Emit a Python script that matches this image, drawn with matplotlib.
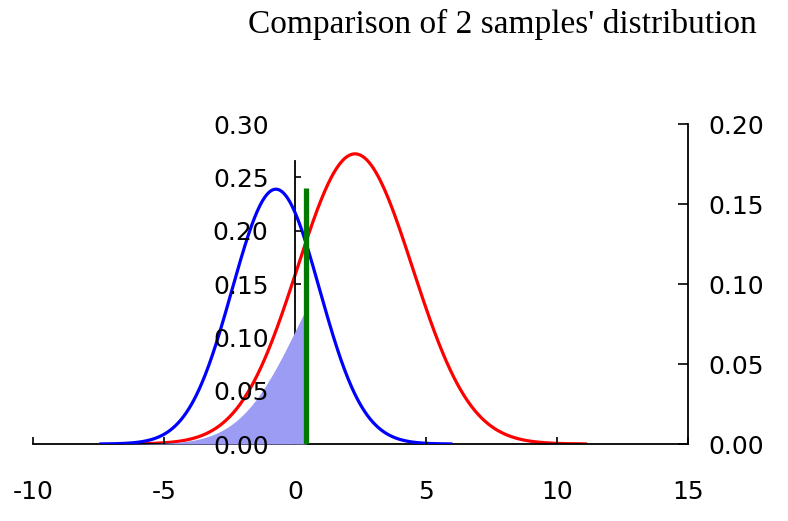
import numpy as np
import matplotlib
matplotlib.use("Agg")
import matplotlib.pyplot as plt

# ---- data ----
title = "Comparison of 2 samples' distribution"
x_ticks = [-10, -5, 0, 5, 10, 15]
left_ticks = [0.00, 0.05, 0.10, 0.15, 0.20, 0.25, 0.30]
right_ticks = [0.00, 0.05, 0.10, 0.15, 0.20]

blue_mean, blue_sd = -0.73, 1.67     # sample 1 (left axis)
red_mean, red_sd = 2.29, 2.20        # sample 2 (right axis)
cut_x = 0.42                          # green marker position
cut_height = 0.24                     # green marker height (left axis)
span_sd = 4.0                         # curves drawn over mean +- 4 sd


def pdf(x, m, s):
    return np.exp(-0.5 * ((x - m) / s) ** 2) / (s * np.sqrt(2 * np.pi))


xb = np.linspace(blue_mean - span_sd * blue_sd, blue_mean + span_sd * blue_sd, 400)
xr = np.linspace(red_mean - span_sd * red_sd, red_mean + span_sd * red_sd, 400)
xf = np.linspace(red_mean - span_sd * red_sd, cut_x, 300)

W, H = 788, 521
fig = plt.figure(figsize=(W / 100, H / 100), dpi=100)
left_px, right_px, bottom_px, top_px = 33, 688, 444, 124
ax = fig.add_axes([left_px / W, 1 - bottom_px / H,
                   (right_px - left_px) / W, (bottom_px - top_px) / H])
ax2 = ax.twinx()
ax.set_zorder(ax2.get_zorder() + 1)

ax.fill_between(xf, 0, pdf(xf, red_mean, red_sd), color="#9c9cf5", lw=0, zorder=2.6)
ax.plot(xb, pdf(xb, blue_mean, blue_sd), color="#0000ff", lw=2.3, zorder=3)
ax.plot([cut_x, cut_x], [0, cut_height], color="#007a00", lw=3.8, zorder=4,
        solid_capstyle="butt")
ax2.plot(xr, pdf(xr, red_mean, red_sd), color="#ff0000", lw=2.3)

ax.set_xlim(-10, 15)
ax.set_ylim(0, 0.30)
ax2.set_ylim(0, 0.20)

for a in (ax, ax2):
    a.patch.set_visible(False)
    for s in a.spines.values():
        s.set_visible(False)

# bottom axis
ax.spines["bottom"].set_visible(True)
ax.spines["bottom"].set_bounds(-10, 15)
ax.set_xticks(x_ticks)
ax.set_xticklabels([str(t) for t in x_ticks])
ax.tick_params(axis="x", direction="in", length=5, width=1.2, pad=26,
               labelsize=18)

# left axis at x = 0
ax.spines["left"].set_visible(True)
ax.spines["left"].set_position(("data", 0))
ax.spines["left"].set_bounds(0, 0.265)
ax.set_yticks(left_ticks)
ax.set_yticklabels([f"{t:.2f}" for t in left_ticks])
ax.tick_params(axis="y", direction="in", length=4.5, width=1.2, pad=19,
               labelsize=18)

# tick marks that are hidden under the shaded area / beyond the spine
yt = ax.yaxis.get_major_ticks()
for i in (0, 1, 2, 6):
    yt[i].tick1line.set_visible(False)
ax.xaxis.get_major_ticks()[2].tick1line.set_visible(False)

# right axis
ax2.spines["right"].set_visible(True)
ax2.set_yticks(right_ticks)
ax2.set_yticklabels([f"{t:.2f}" for t in right_ticks])
ax2.tick_params(axis="y", direction="in", length=7, width=1.2, pad=15,
                labelsize=18)

for a in (ax, ax2):
    for s in a.spines.values():
        s.set_linewidth(1.3)
    a.xaxis.set_zorder(5)
    a.yaxis.set_zorder(5)

fig.text(502 / W, 1 - 33 / H, title, ha="center", va="baseline",
         fontsize=24, family="Liberation Serif")

fig.savefig("out.png", dpi=100)
